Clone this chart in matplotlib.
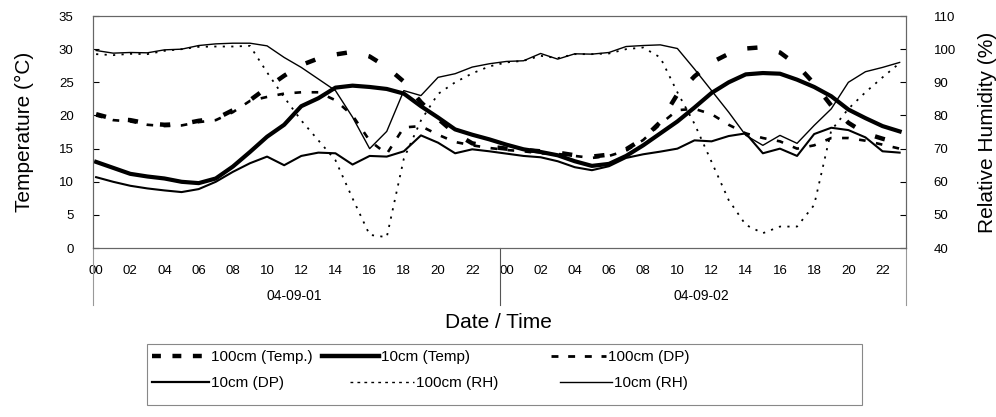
import numpy as np
import matplotlib
matplotlib.use("Agg")
import matplotlib.pyplot as plt
from matplotlib.lines import Line2D
from matplotlib.patches import Rectangle

plt.rcParams['font.family'] = ['Liberation Sans', 'DejaVu Sans']

# ore (due giorni, 48 letture orarie)
ore = list(range(48))
giorni = ["04-09-01", "04-09-02"]
etichette_ore = ["%02d" % h for h in range(0, 24, 2)] * 2

# temperature e punto di rugiada (asse sinistro, degC)
temp_100 = [20.2, 19.5, 19.3, 18.8, 18.6, 18.7, 19.2, 19.5, 20.8, 22.3, 24.2, 26.0,
            27.6, 28.6, 29.2, 29.6, 28.9, 27.3, 25.1, 22.0, 19.5, 17.3, 15.8, 15.3,
            15.0, 14.8, 14.6, 14.4, 14.0, 13.8, 14.1, 14.9, 16.5, 19.0, 23.2, 25.9,
            28.0, 29.3, 30.1, 30.3, 29.5, 27.6, 24.8, 21.5, 18.9, 17.3, 16.5, 15.8]
temp_10 = [13.0, 12.1, 11.2, 10.8, 10.5, 10.0, 9.8, 10.5, 12.3, 14.5, 16.8, 18.6,
           21.4, 22.6, 24.2, 24.5, 24.3, 24.0, 23.3, 21.4, 19.7, 17.9, 17.1, 16.4,
           15.6, 14.9, 14.5, 14.0, 13.1, 12.4, 12.7, 13.9, 15.5, 17.3, 19.1, 21.2,
           23.4, 25.0, 26.2, 26.4, 26.3, 25.4, 24.3, 22.9, 20.9, 19.6, 18.4, 17.6]
dp_100 = [20.0, 19.3, 19.1, 18.6, 18.4, 18.5, 19.0, 19.3, 20.5, 22.2, 22.8, 23.3,
          23.5, 23.5, 22.3, 20.0, 16.2, 14.2, 18.2, 18.4, 17.1, 16.0, 15.5, 15.1,
          14.8, 14.6, 14.3, 14.2, 13.9, 13.6, 13.9, 14.7, 16.3, 18.7, 20.8, 21.0,
          20.2, 18.6, 17.3, 16.6, 16.1, 15.0, 15.5, 16.6, 16.6, 16.2, 15.6, 15.0]
dp_10 = [10.7, 10.0, 9.4, 9.0, 8.7, 8.45, 8.9, 10.0, 11.5, 12.8, 13.8, 12.5,
         13.9, 14.4, 14.3, 12.6, 13.9, 13.8, 14.6, 17.0, 15.9, 14.3, 14.9, 14.6,
         14.25, 13.9, 13.7, 13.1, 12.2, 11.75, 12.35, 13.6, 14.15, 14.55, 15.0, 16.25,
         16.1, 16.9, 17.3, 14.3, 15.0, 13.9, 17.2, 18.15, 17.8, 16.7, 14.6, 14.4]

# umidita' relativa (asse destro, %)
rh_100 = [98.5, 98.2, 98.6, 98.5, 99.5, 100.0, 100.7, 100.8, 100.8, 101.0, 93.0, 85.5,
          78.5, 72.5, 66.5, 55.0, 44.0, 43.3, 67.0, 78.5, 86.5, 90.0, 92.7, 94.8,
          96.0, 96.5, 98.0, 97.3, 98.5, 98.5, 98.7, 100.0, 100.5, 97.5, 87.0, 77.5,
          66.0, 54.5, 47.0, 44.5, 46.5, 46.5, 53.0, 75.5, 82.0, 87.0, 91.5, 95.8]
rh_10 = [99.6, 98.8, 99.0, 98.9, 99.8, 100.0, 101.1, 101.6, 101.8, 101.8, 101.0, 97.5,
         94.5, 91.0, 87.5, 79.5, 70.0, 75.2, 87.5, 86.0, 91.5, 92.6, 94.6, 95.6,
         96.3, 96.5, 98.7, 97.0, 98.6, 98.5, 99.0, 100.8, 101.1, 101.3, 100.2, 94.0,
         87.5, 81.0, 74.0, 71.0, 74.0, 71.6, 77.0, 82.0, 90.0, 93.2, 94.5, 96.0]

fig = plt.figure(figsize=(9.96, 4.17), dpi=100)
ax = fig.add_axes([0.0934, 0.405, 0.8162, 0.5566])
ax2 = ax.twinx()

# linee (asse sinistro)
ax.plot(ore, temp_100, color='black', lw=3.2, linestyle=(0, (2.3, 5.0)),
        dash_capstyle='butt')
ax.plot(ore, temp_10, color='black', lw=3.0, solid_joinstyle='round')
ax.plot(ore, dp_100, color='black', lw=1.9, linestyle=(0, (2.5, 4.0)),
        dash_capstyle='butt')
ax.plot(ore, dp_10, color='black', lw=1.5)
# linee (asse destro)
ax2.plot(ore, rh_100, color='black', lw=1.3, linestyle=(0, (1.2, 3.5)))
ax2.plot(ore, rh_10, color='black', lw=1.0)

ax.set_xlim(-0.18, 47.37)
ax.set_ylim(0, 35)
ax2.set_ylim(40, 110)
ax.set_yticks(range(0, 36, 5))
ax2.set_yticks(range(40, 111, 10))

ax.set_xticks(ore[::2])
ax.set_xticklabels(etichette_ore)
ax.tick_params(axis='x', length=0, pad=12, labelsize=9.5)
ax.tick_params(axis='y', direction='in', length=4, pad=14, labelsize=9.5)
ax2.tick_params(axis='y', direction='in', length=4, pad=20, labelsize=9.5)

for a in (ax, ax2):
    for s in a.spines.values():
        s.set_color('#666666')
        s.set_linewidth(0.8)

ax.set_ylabel("Temperature (\u00b0C)", fontsize=15, labelpad=18)
ax2.set_ylabel("Relative Humidity (%)", fontsize=15, labelpad=16)

# secondo livello dell'asse x: giorni e separatori
trans = ax.get_xaxis_transform()
for k, g in enumerate(giorni):
    ax.text(11.6 + 23.8 * k, -0.205, g, transform=trans, ha='center', va='center',
            fontsize=10)
for xs, col in [(-0.18, '#999999'), (23.6, '#555555'), (47.37, '#999999')]:
    ax.add_line(Line2D([xs, xs], [0, -0.245], transform=trans, color=col,
                       lw=0.8, clip_on=False))

fig.text(0.5, 1 - 323 / 417, "Date / Time", ha='center', va='center', fontsize=15)

# legenda: una voce per cella, dentro un riquadro
fig.patches.append(Rectangle((147 / 996, 1 - 405 / 417), 715 / 996, 61 / 417,
                             transform=fig.transFigure, fill=False,
                             edgecolor='#888888', lw=0.8))
voci = [
    (Line2D([], [], color='black', lw=3.2, linestyle=(0, (2.0, 2.6))),
     "100cm (Temp.)", 152, 357, 3.7),
    (Line2D([], [], color='black', lw=3.2), "10cm (Temp)", 322, 357, 3.7),
    (Line2D([], [], color='black', lw=2.0, linestyle=(0, (2.5, 3.5))),
     "100cm (DP)", 551, 357, 3.6),
    (Line2D([], [], color='black', lw=1.6), "10cm (DP)", 152, 383, 3.7),
    (Line2D([], [], color='black', lw=1.0, linestyle=(0, (2.0, 3.0))),
     "100cm (RH)", 350, 383, 4.2),
    (Line2D([], [], color='black', lw=1.0), "10cm (RH)", 560, 383, 3.4),
]
for h, testo, x0, y0, hl in voci:
    fig.legend([h], [testo], loc='center left',
               bbox_to_anchor=(x0 / 996, 1 - y0 / 417),
               fontsize=11, handlelength=hl, handletextpad=0.15,
               frameon=False, borderpad=0, borderaxespad=0)

fig.savefig("out.png", dpi=100)
